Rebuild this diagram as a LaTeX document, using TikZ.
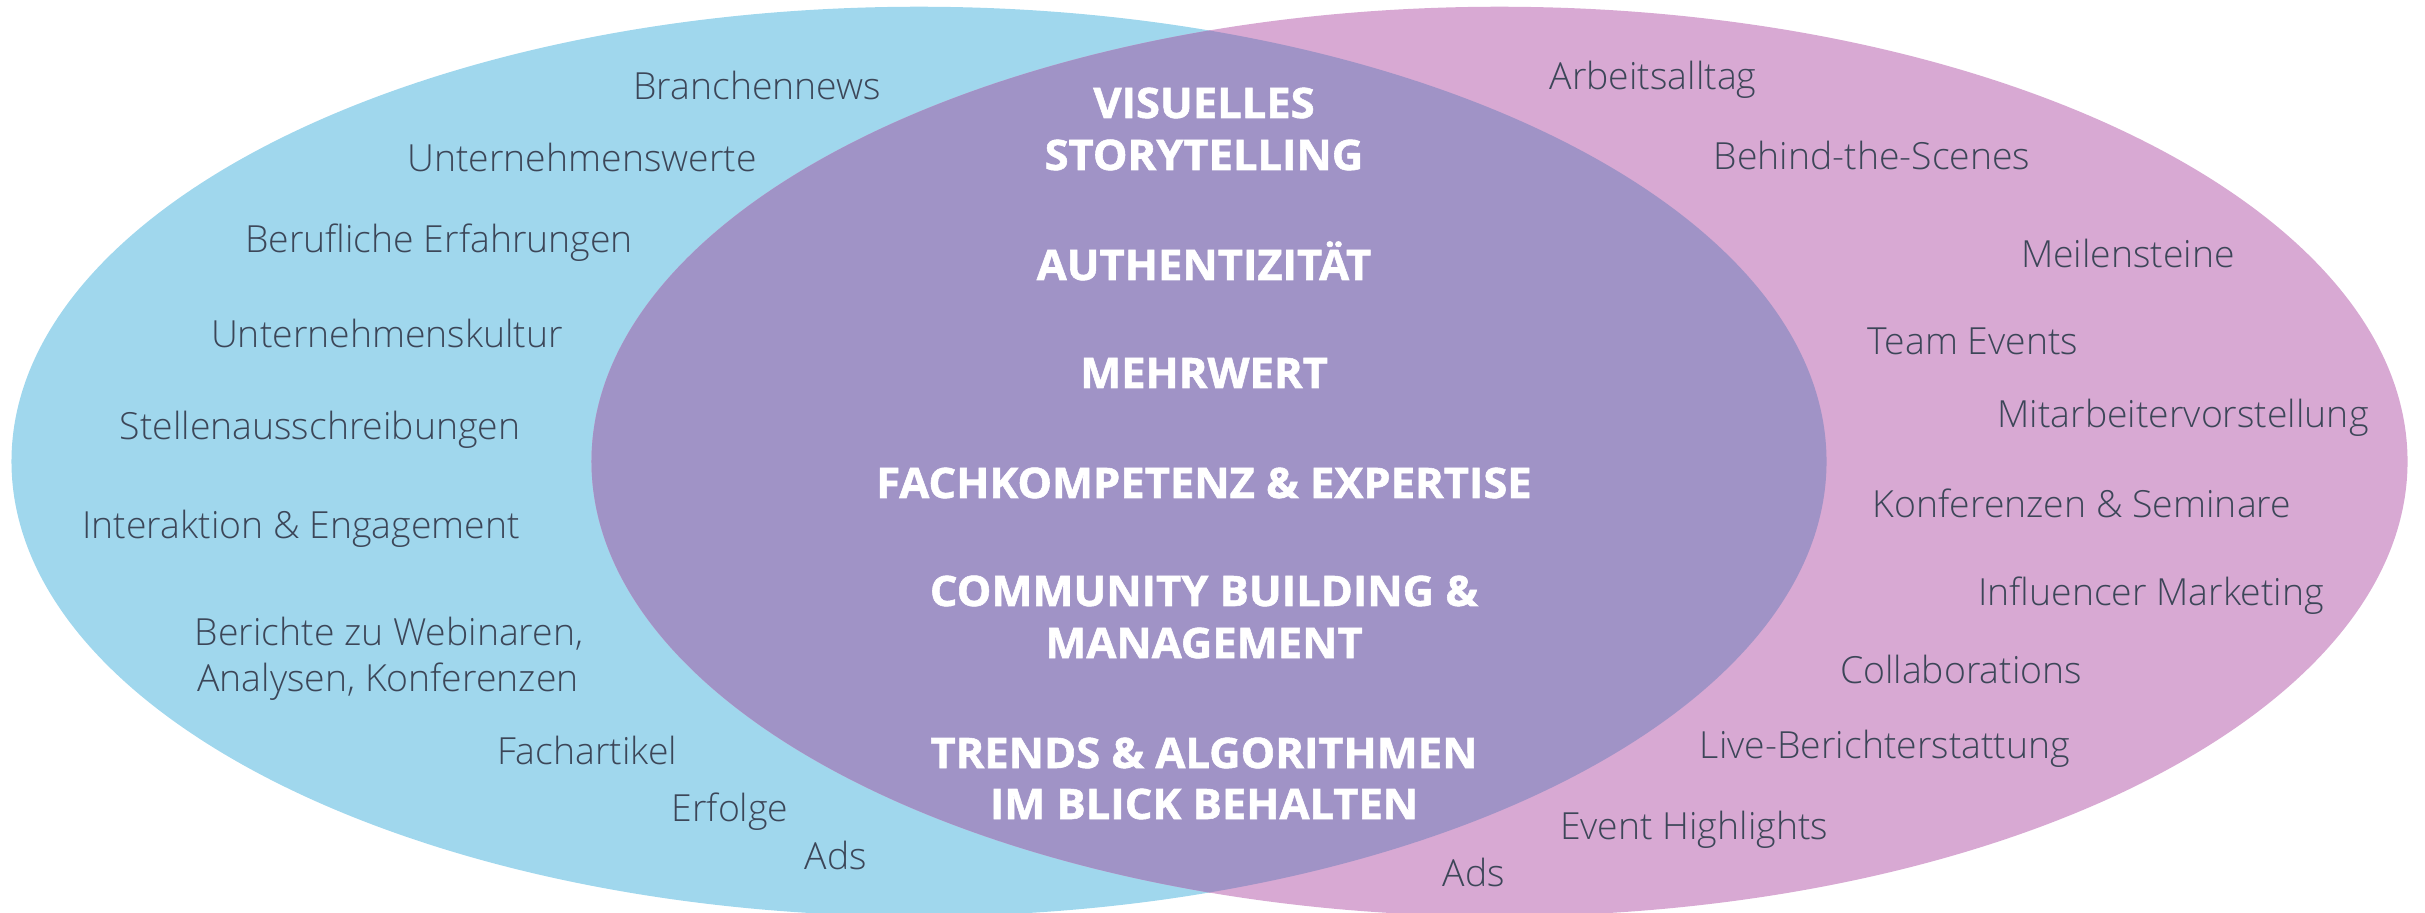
\documentclass[tikz,border=0pt]{standalone}
\usepackage{fontspec}
\setmainfont{Open Sans}
\newfontfamily\lightfont{Open Sans Light}
\newfontfamily\heavyfont{Open Sans}[FakeBold=1.3, FakeStretch=1.035]
\definecolor{cblue}{RGB}{160,215,237}
\definecolor{cpink}{RGB}{216,169,211}
\definecolor{cpurple}{RGB}{160,147,198}
\definecolor{ctext}{RGB}{60,70,88}
\tikzset{
  lt/.style={font=\lightfont\fontsize{10.63}{13}\selectfont, text=ctext, inner sep=0pt, anchor=base},
  bt/.style={font=\heavyfont\bfseries\fontsize{11.95}{14}\selectfont, text=white, inner sep=0pt, anchor=base},
  setA/.style={fill=cblue},
  setB/.style={fill=cpink},
  setAB/.style={fill=cpurple}
}
\begin{document}
\begin{tikzpicture}[x=0.01cm,y=-0.01cm]
\useasboundingbox (0,0) rectangle (2425,913);
\coordinate (cA) at (919,461.5);
\coordinate (cB) at (1499.5,461.5);
\fill[setA] (cA) ellipse [x radius=9.07cm, y radius=4.545cm];
\fill[setB] (cB) ellipse [x radius=9.075cm, y radius=4.545cm];
\begin{scope}
  \clip (cA) ellipse [x radius=9.07cm, y radius=4.545cm];
  \fill[setAB] (cB) ellipse [x radius=9.075cm, y radius=4.545cm];
\end{scope}
% left set
\node[lt] (l1) at (757,100) {Branchennews};
\node[lt] (l2) at (582,172) {Unternehmenswerte};
\node[lt] (l3) at (439,253) {Berufliche Erfahrungen};
\node[lt] (l4) at (387,348) {Unternehmenskultur};
\node[lt] (l5) at (320,440) {Stellenausschreibungen};
\node[lt] (l6) at (301,539) {Interaktion \& Engagement};
\node[lt] (l7a) at (389,646) {Berichte zu Webinaren,};
\node[lt] (l7b) at (388,691) {Analysen, Konferenzen};
\node[lt] (l8) at (587,764) {Fachartikel};
\node[lt] (l9) at (730,821) {Erfolge};
\node[lt] (l10) at (836,869) {Ads};
% right set
\node[lt] (r1) at (1653,90) {Arbeitsalltag};
\node[lt] (r2) at (1872,170) {Behind-the-Scenes};
\node[lt] (r3) at (2128,268) {Meilensteine};
\node[lt] (r4) at (1973,355) {Team Events};
\node[lt] (r5) at (2183,428) {Mitarbeitervorstellung};
\node[lt] (r6) at (2082,518) {Konferenzen \& Seminare};
\node[lt] (r7) at (2151,606) {Influencer Marketing};
\node[lt] (r8) at (1961,683) {Collaborations};
\node[lt] (r9) at (1885,758) {Live-Berichterstattung};
\node[lt] (r10) at (1694,839) {Event Highlights};
\node[lt] (r11) at (1474,886) {Ads};
% intersection
\node[bt] (m1a) at (1204,118) {VISUELLES};
\node[bt] (m1b) at (1204,170) {STORYTELLING};
\node[bt] (m2) at (1204,280) {AUTHENTIZITÄT};
\node[bt] (m3) at (1204,388) {MEHRWERT};
\node[bt] (m4) at (1204,498) {FACHKOMPETENZ \& EXPERTISE};
\node[bt] (m5a) at (1204,606) {COMMUNITY BUILDING \&};
\node[bt] (m5b) at (1204,658) {MANAGEMENT};
\node[bt] (m6a) at (1204,768) {TRENDS \& ALGORITHMEN};
\node[bt] (m6b) at (1204,819) {IM BLICK BEHALTEN};
\end{tikzpicture}
\end{document}
